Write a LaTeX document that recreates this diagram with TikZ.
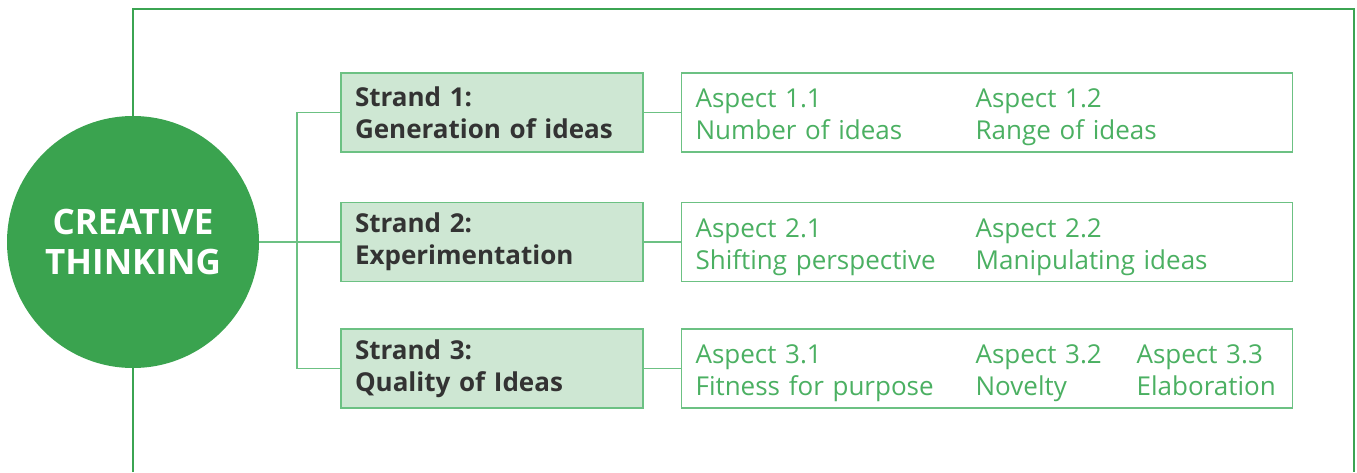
\documentclass[tikz,border=0pt]{standalone}
\usepackage{fontspec}
\setmainfont{Open Sans}
\usepackage{xcolor}
\usetikzlibrary{positioning}
\definecolor{framegreen}{HTML}{3BA452}
\definecolor{circlegreen}{HTML}{3AA34F}
\definecolor{linegreen}{HTML}{6CC183}
\definecolor{strandfill}{HTML}{CEE7D3}
\definecolor{aspectgreen}{HTML}{4BB062}
\definecolor{textgray}{HTML}{333333}
\tikzset{
  core/.style={circle, fill=circlegreen, minimum size=252pt, inner sep=0pt, align=center, text=white, font=\fontsize{35}{40}\selectfont\bfseries},
  strand/.style={draw=linegreen, line width=1.6pt, fill=strandfill, align=left, text=textgray, minimum width=302pt, minimum height=79pt, text width=274pt, inner sep=0pt, font=\fontsize{26}{32}\selectfont\bfseries},
  aspect/.style={draw=linegreen, line width=1.6pt, fill=white, align=left, text=aspectgreen, minimum width=611pt, minimum height=79pt, text width=583pt, inner sep=0pt, font=\fontsize{26}{32}\selectfont},
  link/.style={draw=linegreen, line width=1.6pt},
  frame/.style={draw=framegreen, line width=2.6pt}
}

\begin{document}
\begin{tikzpicture}[x=1pt, y=-1pt]
  \useasboundingbox (0,0) rectangle (1357,472);
  % outer frame, open at the bottom
  \draw[frame] (133,472) -- (133,9) -- (1354,9) -- (1354,472);

  \node[core] (ct) at (133,242) {CREATIVE\\THINKING};
  \coordinate (bus) at (297,242);

  \node[strand] (s1) at (492,112.5) {Strand 1:\\Generation of ideas};
  \node[strand] (s2) at (492,242) {Strand 2:\\Experimentation};
  \node[strand] (s3) at (492,368.5) {Strand 3:\\Quality of Ideas};

  \node[aspect, right=37pt of s1] (a1) {\vspace*{-10pt}\begin{tabular}{@{}p{280pt}@{}l@{}}Aspect 1.1 & Aspect 1.2\\Number of ideas & Range of ideas\end{tabular}};
  \node[aspect, right=37pt of s2] (a2) {\vspace*{-10pt}\begin{tabular}{@{}p{280pt}@{}l@{}}Aspect 2.1 & Aspect 2.2\\Shifting perspective & Manipulating ideas\end{tabular}};
  \node[aspect, right=37pt of s3] (a3) {\vspace*{-10pt}\begin{tabular}{@{}p{280pt}@{}p{161pt}@{}l@{}}Aspect 3.1 & Aspect 3.2 & Aspect 3.3\\Fitness for purpose & Novelty & Elaboration\end{tabular}};

  \draw[link] (ct.east) -- (bus);
  \draw[link] (s1.west) -| (bus);
  \draw[link] (s3.west) -| (bus);
  \draw[link] (bus) -- (s2.west);
  \draw[link] (s1) -- (a1);
  \draw[link] (s2) -- (a2);
  \draw[link] (s3) -- (a3);
\end{tikzpicture}
\end{document}
